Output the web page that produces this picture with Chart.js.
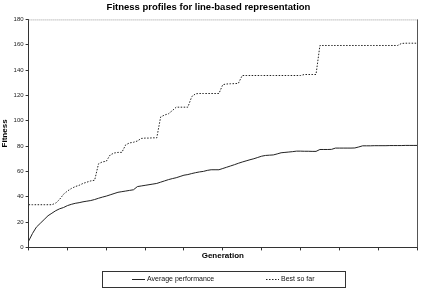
<!DOCTYPE html>
<html>
<head>
<meta charset="utf-8">
<script src="https://cdn.jsdelivr.net/npm/chart.js@4"></script>
<style>
  html, body { margin: 0; padding: 0; background: #fff; }
  #wrap { width: 421px; height: 299px; }
</style>
</head>
<body>
<div id="wrap"><canvas id="fitnessChart"></canvas></div>
<script>
// generations 0..100
var generations = [];
for (var g = 0; g <= 100; g++) generations.push(g);

var averagePerformance = [
    5, 11, 16, 19, 22, 25, 27, 29, 30.5, 31.5,
    33, 34, 34.8, 35.3, 36, 36.5, 37, 37.8, 38.8, 39.7,
    40.5, 41.5, 42.5, 43.5, 44, 44.5, 45, 45.5, 48, 48.5,
    49, 49.5, 50, 50.5, 51.5, 52.5, 53.5, 54.3, 55, 56,
    57, 57.5, 58.3, 59, 59.6, 60, 60.8, 61.3, 61.3, 61.3,
    62.3, 63.3, 64.3, 65.3, 66.4, 67.4, 68.3, 69.2, 70, 71,
    72, 72.6, 72.8, 73, 73.8, 74.7, 75, 75.3, 75.6, 76,
    76, 75.9, 75.9, 75.8, 75.8, 77.3, 77.3, 77.3, 77.4, 78.4,
    78.4, 78.4, 78.4, 78.4, 78.5, 79.3, 80.2, 80.2, 80.2, 80.3,
    80.3, 80.3, 80.3, 80.4, 80.4, 80.4, 80.4, 80.5, 80.5, 80.5,
    80.5
];

var bestSoFar = [
    33.7, 33.7, 33.7, 33.7, 33.7, 33.7, 33.7, 35, 38, 42,
    44.5, 46.5, 48, 49, 50.5, 51.5, 52.5, 53, 66, 67.5,
    68, 73, 74.5, 75, 75, 81, 82.5, 83, 84, 86,
    86.3, 86.3, 86.5, 86.5, 103, 104.5, 105.5, 108, 110.7, 110.7,
    110.7, 110.7, 119, 121.3, 121.5, 121.5, 121.5, 121.5, 121.5, 121.5,
    128.5, 129, 129.2, 129.3, 129.5, 135.7, 135.7, 135.7, 135.7, 135.7,
    135.7, 135.7, 135.7, 135.7, 135.7, 135.7, 135.7, 135.7, 135.7, 135.7,
    135.7, 136.5, 136.5, 136.5, 136.5, 159.4, 159.4, 159.4, 159.4, 159.4,
    159.4, 159.4, 159.4, 159.4, 159.4, 159.4, 159.4, 159.4, 159.4, 159.4,
    159.4, 159.4, 159.4, 159.4, 159.4, 159.4, 161, 161.2, 161.2, 161.2,
    161.2
];

var seriesNames = ['Average performance', 'Best so far'];

var FONT = "'Liberation Sans', Arial, sans-serif";

// top and right frame of the plot
var frame = {
    id: 'frame',
    afterDraw: function (chart) {
        var a = chart.chartArea, ctx = chart.ctx;
        ctx.save();
        ctx.lineWidth = 1;
        ctx.strokeStyle = '#999';
        ctx.setLineDash([1, 1]);
        ctx.beginPath();
        ctx.moveTo(a.left, a.top + 0.5);
        ctx.lineTo(a.right, a.top + 0.5);
        ctx.stroke();
        ctx.setLineDash([]);
        ctx.strokeStyle = '#555';
        ctx.beginPath();
        ctx.moveTo(Math.round(a.right) + 0.5, a.top);
        ctx.lineTo(Math.round(a.right) + 0.5, a.bottom);
        ctx.stroke();
        ctx.restore();
    }
};

// boxed legend under the axis title
var boxLegend = {
    id: 'boxLegend',
    afterDraw: function (chart) {
        var ctx = chart.ctx;
        var x0 = 102, y0 = 271, w = 243, h = 16;
        ctx.save();
        ctx.strokeStyle = '#333';
        ctx.lineWidth = 1;
        ctx.strokeRect(x0 + 0.5, y0 + 0.5, w, h);
        var starts = [132, 266];
        ctx.font = '7px ' + FONT;
        ctx.fillStyle = '#111';
        ctx.textBaseline = 'middle';
        chart.data.datasets.forEach(function (ds, i) {
            var sx = starts[i], cy = y0 + h / 2 + 0.5;
            ctx.strokeStyle = ds.borderColor;
            ctx.setLineDash(ds.borderDash || []);
            ctx.beginPath();
            ctx.moveTo(sx, cy);
            ctx.lineTo(sx + 13, cy);
            ctx.stroke();
            ctx.setLineDash([]);
            ctx.fillText(ds.label, sx + 15, cy);
        });
        ctx.restore();
    }
};

new Chart(document.getElementById('fitnessChart'), {
    type: 'line',
    data: {
        labels: generations,
        datasets: [
            {
                label: seriesNames[0],
                data: averagePerformance,
                borderColor: '#222',
                borderWidth: 1,
                pointRadius: 0,
                tension: 0
            },
            {
                label: seriesNames[1],
                data: bestSoFar,
                borderColor: '#222',
                borderWidth: 1,
                borderDash: [1.5, 1.5],
                pointRadius: 0,
                tension: 0
            }
        ]
    },
    options: {
        responsive: true,
        maintainAspectRatio: false,
        animation: false,
        layout: { padding: { left: 0, right: 4, top: 0, bottom: 38 } },
        plugins: {
            legend: { display: false },
            tooltip: { enabled: false },
            title: {
                display: true,
                text: 'Fitness profiles for line-based representation',
                color: '#000',
                font: { family: FONT, size: 9.5, weight: 'bold' },
                padding: { top: 2, bottom: 6 }
            }
        },
        scales: {
            x: {
                type: 'linear',
                min: 0,
                max: 100,
                ticks: { display: false, stepSize: 10 },
                grid: { drawOnChartArea: false, tickLength: 3, color: '#333' },
                border: { color: '#333' },
                title: {
                    display: true,
                    text: 'Generation',
                    color: '#000',
                    font: { family: FONT, size: 8, weight: 'bold' },
                    padding: { top: 1, bottom: 0 }
                }
            },
            y: {
                min: 0,
                max: 180,
                ticks: {
                    stepSize: 20,
                    color: '#222',
                    padding: 2,
                    font: { family: FONT, size: 6 }
                },
                grid: { drawOnChartArea: false, tickLength: 3, color: '#333' },
                border: { color: '#333' },
                title: {
                    display: true,
                    text: 'Fitness',
                    color: '#000',
                    font: { family: FONT, size: 8, weight: 'bold' },
                    padding: { top: 0, bottom: 2 }
                }
            }
        }
    },
    plugins: [frame, boxLegend]
});
</script>
</body>
</html>
